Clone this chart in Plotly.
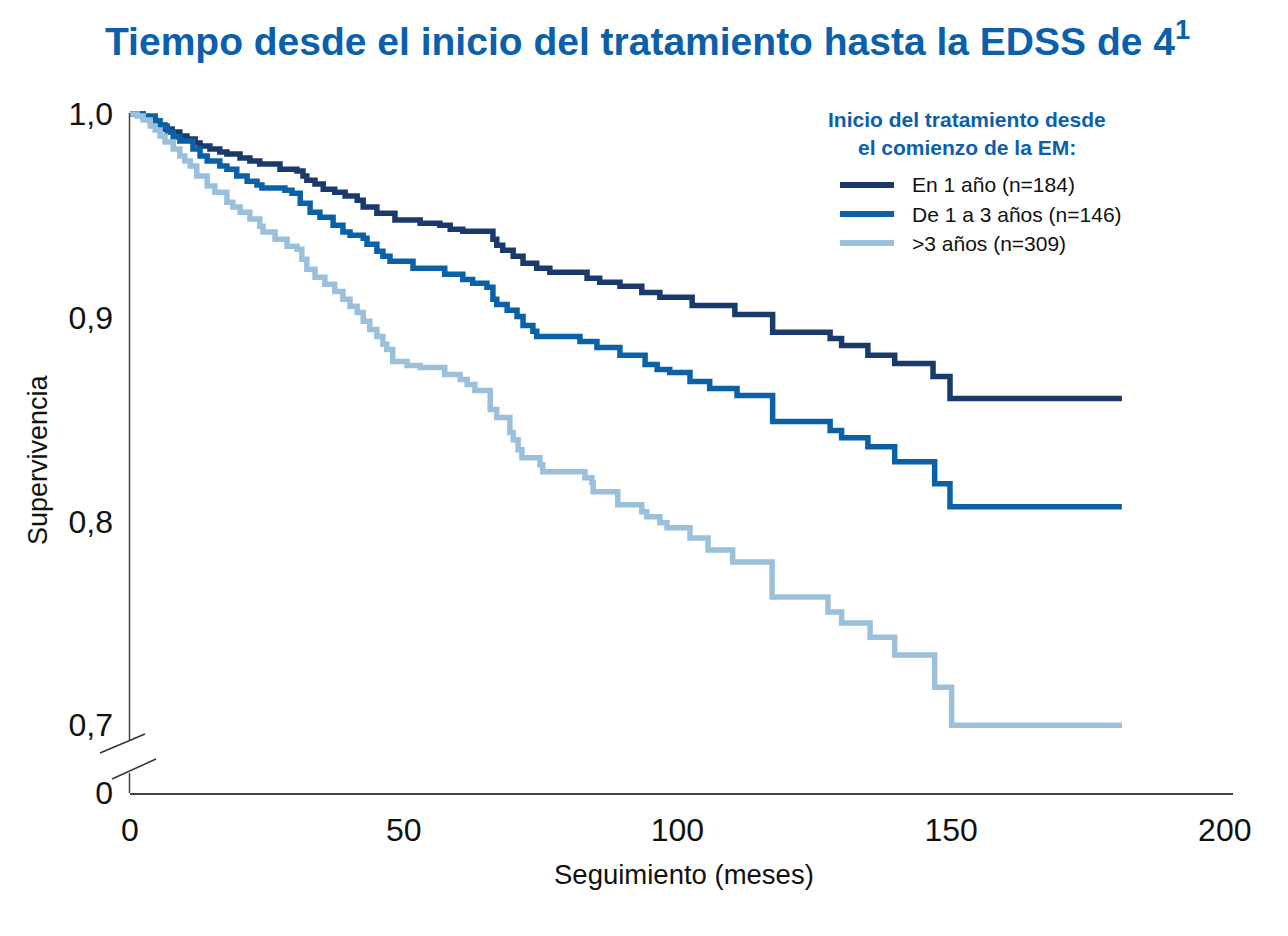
import plotly.graph_objects as go

# ---------------- data ----------------
series_names = ["En 1 año (n=184)", "De 1 a 3 años (n=146)", ">3 años (n=309)"]

months_1 = [0, 2.4, 3.7, 4.9, 6.4, 7.7, 9.1, 10.4, 11.9, 12.8, 14.6, 16.4, 17.7, 20.1, 21.9, 23.7,
            27.4, 30.5, 31.6, 32.3, 33.8, 35.3, 37.4, 39.3, 41.5, 42.6, 45.1, 48.4, 53.0, 56.6,
            58.5, 60.8, 66.3, 67.0, 68.1, 70.0, 71.8, 74.3, 76.7, 83.5, 85.8, 89.5, 93.5, 96.8,
            102.7, 110.5, 117.4, 127.9, 130.0, 134.8, 139.7, 146.7, 149.8, 181.2]
surv_1 = [1.000, 0.9985, 0.9966, 0.9946, 0.9926, 0.9911, 0.9892, 0.9877, 0.9857, 0.9843,
          0.9828, 0.9813, 0.9803, 0.9784, 0.9769, 0.9754, 0.9729, 0.9720, 0.9695, 0.9675,
          0.9656, 0.9631, 0.9616, 0.9597, 0.9577, 0.9543, 0.9513, 0.9479, 0.9464, 0.9454,
          0.9434, 0.9424, 0.9385, 0.9356, 0.9331, 0.9302, 0.9267, 0.9243, 0.9223, 0.9193,
          0.9174, 0.9154, 0.9124, 0.9100, 0.9060, 0.9016, 0.8928, 0.8898, 0.8864, 0.8815,
          0.8775, 0.8711, 0.8603, 0.8603]

months_2 = [0, 2.4, 4.6, 5.5, 6.8, 7.9, 9.1, 11.5, 12.8, 14.1, 16.4, 17.7, 19.5, 21.4, 23.2, 24.1,
            28.3, 29.6, 31.1, 32.9, 34.7, 37.1, 38.9, 40.2, 42.6, 43.3, 45.1, 46.2, 47.5, 51.7,
            57.5, 60.8, 62.6, 65.2, 66.3, 67.0, 68.9, 70.7, 71.8, 73.6, 74.3, 82.2, 85.3, 89.5,
            94.1, 96.3, 98.6, 102.3, 105.9, 110.9, 117.4, 127.9, 130.0, 134.8, 139.7, 147.0,
            149.8, 181.2]
surv_2 = [1.000, 0.9990, 0.9966, 0.9941, 0.9911, 0.9887, 0.9867, 0.9828, 0.9793, 0.9769,
          0.9744, 0.9729, 0.9695, 0.9670, 0.9651, 0.9636, 0.9626, 0.9611, 0.9562, 0.9518,
          0.9493, 0.9454, 0.9420, 0.9405, 0.9390, 0.9361, 0.9326, 0.9302, 0.9277, 0.9243,
          0.9213, 0.9188, 0.9169, 0.9149, 0.9090, 0.9065, 0.9036, 0.9006, 0.8962, 0.8933,
          0.8908, 0.8883, 0.8854, 0.8815, 0.8770, 0.8746, 0.8731, 0.8687, 0.8652, 0.8618,
          0.8490, 0.8446, 0.8411, 0.8367, 0.8293, 0.8185, 0.8072, 0.8072]

months_3 = [0, 1.3, 2.4, 3.7, 4.6, 5.5, 6.4, 7.9, 9.1, 10.0, 11.0, 12.2, 14.1, 15.5, 17.7, 18.8,
            20.1, 21.9, 23.7, 24.3, 26.5, 28.7, 30.5, 31.4, 32.3, 33.8, 35.6, 37.4, 38.9, 40.2,
            41.5, 42.6, 43.8, 45.1, 46.2, 46.9, 48.0, 50.6, 53.0, 57.5, 60.3, 61.6, 63.0, 65.8,
            67.0, 69.4, 70.0, 70.9, 71.6, 74.9, 75.4, 83.1, 84.4, 84.6, 89.1, 93.5, 94.4, 96.8,
            98.1, 102.3, 105.6, 110.1, 117.3, 127.5, 130.0, 135.2, 139.7, 147.0, 150.1, 181.2]
surv_3 = [1.000, 0.9990, 0.9970, 0.9941, 0.9921, 0.9892, 0.9862, 0.9828, 0.9793, 0.9769,
          0.9744, 0.9695, 0.9646, 0.9616, 0.9567, 0.9543, 0.9518, 0.9484, 0.9449, 0.9420,
          0.9385, 0.9351, 0.9336, 0.9287, 0.9238, 0.9198, 0.9164, 0.9129, 0.9090, 0.9056,
          0.9026, 0.8982, 0.8942, 0.8908, 0.8869, 0.8844, 0.8785, 0.8765, 0.8756, 0.8721,
          0.8697, 0.8672, 0.8642, 0.8549, 0.8510, 0.8436, 0.8401, 0.8352, 0.8313, 0.8278,
          0.8244, 0.8214, 0.8190, 0.8146, 0.8082, 0.8047, 0.8023, 0.7993, 0.7969, 0.7919,
          0.7860, 0.7801, 0.7629, 0.7555, 0.7501, 0.7432, 0.7344, 0.7186, 0.7000, 0.7000]

x_ticks = [0, 50, 100, 150, 200]
x_tick_labels = ["0", "50", "100", "150", "200"]
y_ticks = [0.6667, 0.7, 0.8, 0.9, 1.0]          # 0.6667 stands for the broken-axis "0"
y_tick_labels = ["0", "0,7", "0,8", "0,9", "1,0"]

colors = ["#1a3a6c", "#0a61a8", "#9bc0dc"]
title_blue = "#0b60ab"
FONT = "Liberation Sans, Arial, sans-serif"

# ---------------- layout geometry ----------------
OFF = 8                      # page body margin of the browser
W, H = 1280, 928
ML, MR, MT, MB = 122, 55, 87, 143
PW, PH = W - ML - MR, H - MT - MB


def pxx(px):
    """screen x pixel (reference coords) -> paper"""
    return (px - OFF - ML) / PW


def pxy(py):
    """screen y pixel (reference coords) -> paper"""
    return (H - MB - (py - OFF)) / PH


fig = go.Figure()
for name, t, s, c in zip(series_names, [months_1, months_2, months_3],
                         [surv_1, surv_2, surv_3], colors):
    fig.add_trace(go.Scatter(x=t, y=s, mode="lines", name=name,
                             line=dict(color=c, width=5.5, shape="hv"),
                             showlegend=False, hoverinfo="x+y+name"))

shapes = []
# broken y axis line
shapes.append(dict(type="line", xref="paper", yref="paper", x0=pxx(129.5), x1=pxx(129.5),
                   y0=pxy(793), y1=pxy(773), line=dict(color="#444", width=1.5)))
shapes.append(dict(type="line", xref="paper", yref="paper", x0=pxx(129.5), x1=pxx(129.5),
                   y0=pxy(740), y1=pxy(113), line=dict(color="#444", width=1.5)))
# break marks
shapes.append(dict(type="line", xref="paper", yref="paper", x0=pxx(100), x1=pxx(145),
                   y0=pxy(753), y1=pxy(734), line=dict(color="#333", width=1.5)))
shapes.append(dict(type="line", xref="paper", yref="paper", x0=pxx(112), x1=pxx(156),
                   y0=pxy(779), y1=pxy(759), line=dict(color="#333", width=1.5)))
# legend swatches
for c, py in zip(colors, [185, 214, 243]):
    shapes.append(dict(type="line", xref="paper", yref="paper", x0=pxx(840), x1=pxx(894),
                       y0=pxy(py), y1=pxy(py), line=dict(color=c, width=6)))

annotations = [
    dict(text="<b>Tiempo desde el inicio del tratamiento hasta la EDSS de 4<sup>1</sup></b>",
         xref="paper", yref="paper", x=pxx(647), y=pxy(39), xanchor="center", yanchor="middle",
         showarrow=False, font=dict(family=FONT, size=39, color=title_blue)),
    dict(text="<b>Inicio del tratamiento desde</b>", xref="paper", yref="paper",
         x=pxx(967), y=pxy(119), xanchor="center", yanchor="middle", showarrow=False,
         font=dict(family=FONT, size=21, color=title_blue)),
    dict(text="<b>el comienzo de la EM:</b>", xref="paper", yref="paper",
         x=pxx(967), y=pxy(148), xanchor="center", yanchor="middle", showarrow=False,
         font=dict(family=FONT, size=21, color=title_blue)),
    dict(text="Supervivencia", xref="paper", yref="paper", x=pxx(38), y=pxy(460),
         xanchor="center", yanchor="middle", textangle=-90, showarrow=False,
         font=dict(family=FONT, size=27, color="#111")),
    dict(text="Seguimiento (meses)", xref="paper", yref="paper", x=pxx(684), y=pxy(874),
         xanchor="center", yanchor="middle", showarrow=False,
         font=dict(family=FONT, size=27.5, color="#111")),
]
for name, py in zip(series_names, [185, 214, 243]):
    annotations.append(dict(text=name, xref="paper", yref="paper", x=pxx(910), y=pxy(py),
                            xanchor="left", yanchor="middle", showarrow=False,
                            font=dict(family=FONT, size=21, color="#111")))

fig.update_layout(
    width=W, height=H,
    margin=dict(l=ML, r=MR, t=MT, b=MB, pad=0),
    paper_bgcolor="white", plot_bgcolor="white",
    font=dict(family=FONT, color="#111"),
    shapes=shapes, annotations=annotations,
    xaxis=dict(range=[0, 201.5], tickvals=x_ticks, ticktext=x_tick_labels,
               showgrid=False, zeroline=False, showline=True, linecolor="#444", linewidth=1.5,
               ticks="", ticklabelstandoff=8, tickfont=dict(family=FONT, size=32, color="#111")),
    yaxis=dict(range=[0.6667, 1.0093], tickvals=y_ticks, ticktext=y_tick_labels,
               showgrid=False, zeroline=False, showline=False,
               ticks="", ticklabelstandoff=16, tickfont=dict(family=FONT, size=32, color="#111")),
)

fig.write_html("out.html")
